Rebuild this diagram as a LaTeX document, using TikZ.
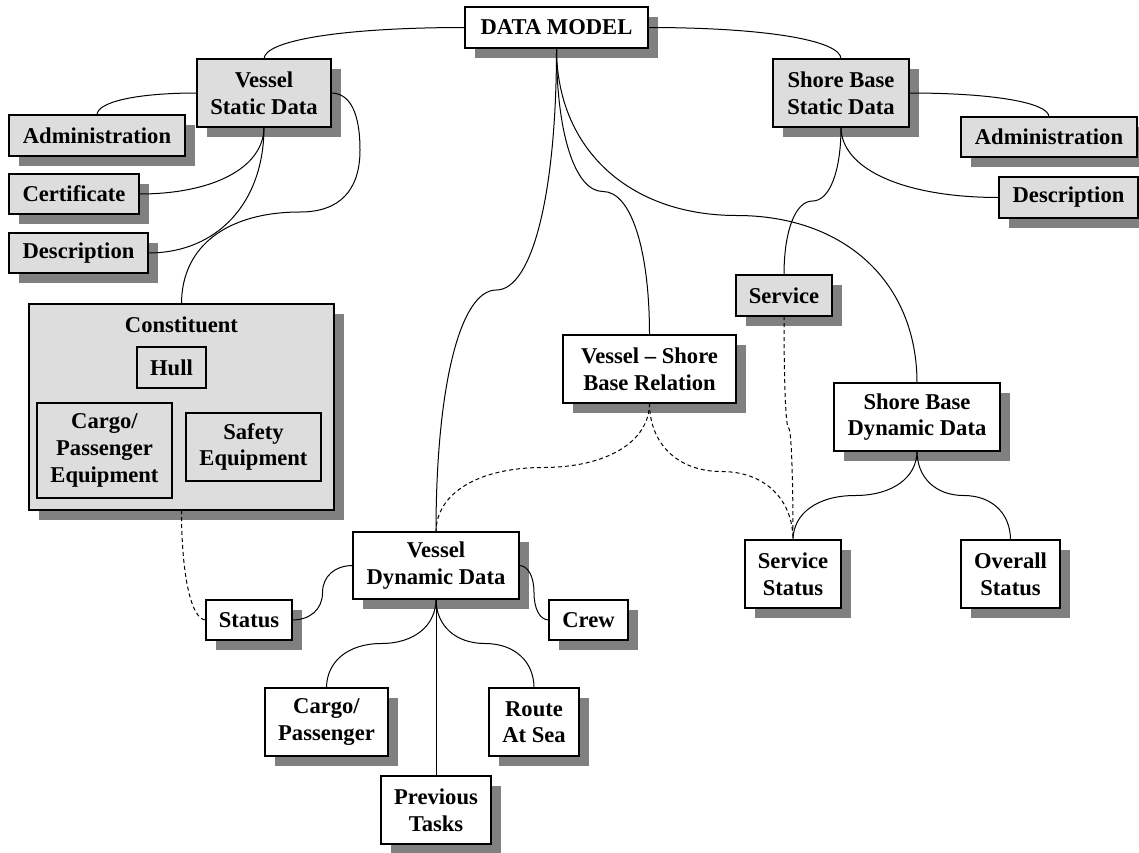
\documentclass[tikz,border=0pt]{standalone}
\usepackage{fontspec}
\setmainfont{Liberation Serif}
\usetikzlibrary{calc, shadows}
\definecolor{boxgray}{RGB}{221,221,221}
\definecolor{shadegray}{RGB}{128,128,128}

\begin{document}
\begin{tikzpicture}[x=0.5pt, y=-0.5pt,
        part/.style={draw, fill=boxgray, line width=0.6pt, inner sep=0pt,
            outer sep=0pt, align=center,
            font=\fontsize{11.3}{13.3}\selectfont\bfseries},
        wbox/.style={part, fill=white,
            drop shadow={shadow xshift=5pt, shadow yshift=-5pt,
                fill=shadegray, opacity=1}},
        gbox/.style={wbox, fill=boxgray},
        sz/.style 2 args={minimum width=#1, minimum height=#2},
        link/.style={line width=0.5pt},
        weak/.style={link, dash pattern=on 2pt off 1.5pt},
        vs/.style={to path={let \p1=(\tikztostart), \p2=(\tikztotarget),
            \p3=($(\p1)!.5!(\p2)$) in
            .. controls ($(\p1)!.6!(\x1,\y3)$) and ($(\p3)!.6!(\x1,\y3)$) .. (\p3)
            .. controls ($(\p3)!.6!(\x2,\y3)$) and ($(\p2)!.6!(\x2,\y3)$) .. (\p2)}},
        hs/.style={to path={let \p1=(\tikztostart), \p2=(\tikztotarget),
            \p3=($(\p1)!.5!(\p2)$) in
            .. controls ($(\p1)!.6!(\x3,\y1)$) and ($(\p3)!.6!(\x3,\y1)$) .. (\p3)
            .. controls ($(\p3)!.6!(\x3,\y2)$) and ($(\p2)!.6!(\x3,\y2)$) .. (\p2)}},
        vh/.style={to path={let \p1=(\tikztostart), \p2=(\tikztotarget) in
            .. controls ($(\p1)!.6!(\x1,\y2)$) and ($(\p2)!.6!(\x1,\y2)$) .. (\p2)}},
        hv/.style={to path={let \p1=(\tikztostart), \p2=(\tikztotarget) in
            .. controls ($(\p1)!.6!(\x2,\y1)$) and ($(\p2)!.6!(\x2,\y1)$) .. (\p2)}}
    ]
    \useasboundingbox (0,0) rectangle (1139,852);

    % top level
    \node[wbox, sz={91.5pt}{20.5pt}] (dm) at (556.5,27.5) {DATA MODEL};

    % vessel static side
    \node[gbox, sz={67pt}{34pt}] (vsd) at (264,93) {Vessel\\Static Data};
    \node[gbox, sz={88pt}{20.5pt}] (admin1) at (97,135.5) {Administration};
    \node[gbox, sz={65pt}{20pt}] (cert) at (74,194) {Certificate};
    \node[gbox, sz={69.5pt}{20pt}] (desc1) at (78.5,253) {Description};

    \node[gbox, sz={152.5pt}{103pt}] (cons) at (181.5,407) {};
    \node[font=\fontsize{11.3}{13.3}\selectfont\bfseries] (constitle)
        at (181.5,325) {Constituent};
    \node[part, sz={34.5pt}{20.5pt}] (hull) at (171.5,367.5) {Hull};
    \node[part, sz={67.5pt}{47.5pt}] (cpequip) at (104.5,450.5)
        {Cargo/\\Passenger\\Equipment};
    \node[part, sz={67.5pt}{34pt}] (safety) at (253.5,447) {Safety\\Equipment};

    % shore base static side
    \node[gbox, sz={68pt}{34pt}] (sbsd) at (841,93) {Shore Base\\Static Data};
    \node[gbox, sz={88pt}{20pt}] (admin2) at (1049,137) {Administration};
    \node[gbox, sz={69.5pt}{20.5pt}] (desc2) at (1068.5,197.5) {Description};
    \node[gbox, sz={48pt}{20.5pt}] (service) at (784,295.5) {Service};

    % dynamic data
    \node[wbox, sz={86.5pt}{34pt}] (vsbr) at (649.5,369) {Vessel -- Shore\\Base Relation};
    \node[wbox, sz={83pt}{34pt}] (sbdd) at (917,417) {Shore Base\\Dynamic Data};
    \node[wbox, sz={48pt}{34pt}] (sstatus) at (793,574) {Service\\Status};
    \node[wbox, sz={49.5pt}{34pt}] (ostatus) at (1010.5,574) {Overall\\Status};

    \node[wbox, sz={83pt}{33.5pt}] (vdd) at (436,565.5) {Vessel\\Dynamic Data};
    \node[wbox, sz={43pt}{20pt}] (status) at (249,620) {Status};
    \node[wbox, sz={39.5pt}{20pt}] (crew) at (588.5,620) {Crew};
    \node[wbox, sz={61.5pt}{34pt}] (cargo) at (326.5,722) {Cargo/\\Passenger};
    \node[wbox, sz={45pt}{34pt}] (route) at (534,722) {Route\\At Sea};
    \node[wbox, sz={55pt}{34pt}] (tasks) at (436,810) {Previous\\Tasks};

    % connectors
    \draw[link] (dm.west) to[hv] (vsd.north);
    \draw[link] (dm.east) to[hv] (sbsd.north);
    \draw[link] (vsd.west) to[hv] (admin1.north);
    \draw[link] (vsd.south) to[vh] (cert.east);
    \draw[link] (vsd.south) to[vh] (desc1.east);
    \draw[link] (vsd.east) .. controls +(20,0) and +(0,-35) .. (360,150)
        .. controls +(0,40) and +(40,0) .. (300,212)
        .. controls +(-70,0) and +(0,-60) .. (cons.north);
    \draw[link] (dm.south) to[vs] (vdd.north);
    \draw[link] (dm.south) to[vs] (vsbr.north);
    \draw[link] (dm.south) to[vs] (sbdd.north);
    \draw[link] (sbsd.east) to[hv] (admin2.north);
    \draw[link] (sbsd.south) to[vh] (desc2.west);
    \draw[link] (sbsd.south) to[vs] (service.north);
    \draw[weak] (service.south) to[vs] (sstatus.north);
    \draw[weak] (vsbr.south) to[vs] (vdd.north);
    \draw[weak] (vsbr.south) to[vs] (sstatus.north);
    \draw[link] (sbdd.south) to[vs] (sstatus.north);
    \draw[link] (sbdd.south) to[vs] (ostatus.north);
    \draw[weak] (cons.south) to[vh] (status.west);
    \draw[link] (vdd.west) to[hs] (status.east);
    \draw[link] (vdd.east) to[hs] (crew.west);
    \draw[link] (vdd.south) to[vs] (cargo.north);
    \draw[link] (vdd.south) to[vs] (route.north);
    \draw[link] (vdd.south) -- (tasks.north);
\end{tikzpicture}
\end{document}
